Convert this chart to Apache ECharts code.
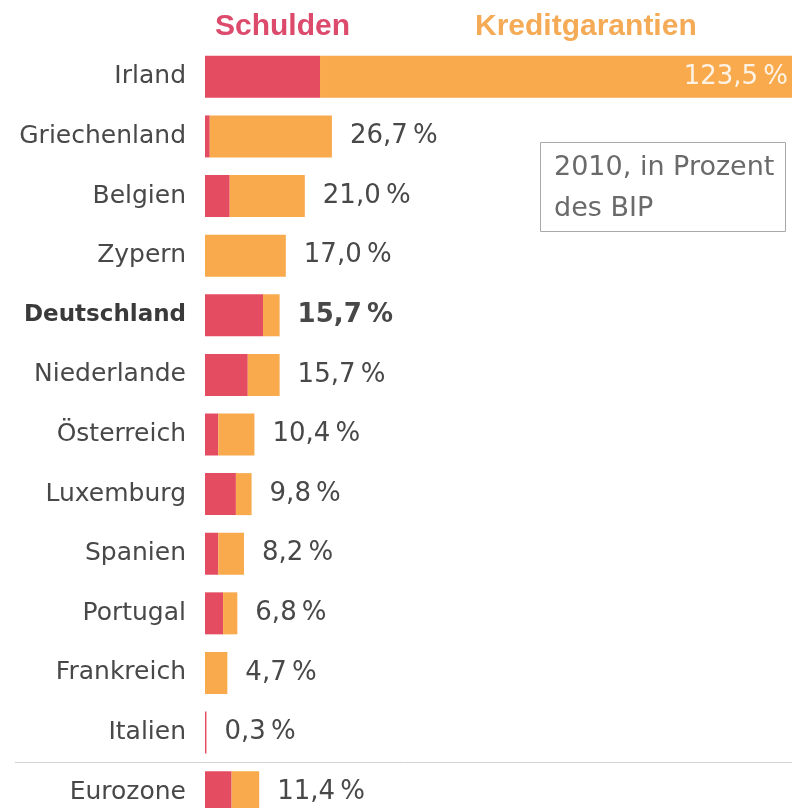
<!DOCTYPE html>
<html>
<head>
<meta charset="utf-8">
<script src="https://cdn.jsdelivr.net/npm/echarts@6/dist/echarts.min.js"></script>
<style>
html,body{margin:0;padding:0;background:#fff;overflow:hidden;}
#chart{width:792px;height:822px;}
</style>
</head>
<body>
<div id="chart"></div>
<script>
const categories = ['Irland','Griechenland','Belgien','Zypern','Deutschland','Niederlande','Österreich','Luxemburg','Spanien','Portugal','Frankreich','Italien','Eurozone'];
const schulden = [24.2, 1.0, 5.2, 0, 12.2, 9.0, 2.8, 6.5, 2.8, 3.8, 0, 0.3, 5.6];
const garantien = [99.3, 25.7, 15.8, 17.0, 3.5, 6.7, 7.6, 3.3, 5.4, 3.0, 4.7, 0, 5.8];
const totals = [123.5, 26.7, 21.0, 17.0, 15.7, 15.7, 10.4, 9.8, 8.2, 6.8, 4.7, 0.3, 11.4];
const seriesNames = ['Schulden', 'Kreditgarantien'];
const noteText = '2010, in Prozent\ndes BIP';
const highlight = 'Deutschland';

const RED = '#e44c62';
const ORANGE = '#f8aa4c';
const TEXT = '#484848';

const fmt = v => v.toFixed(1).replace('.', ',') + '\u2009%';

const chart = echarts.init(document.getElementById('chart'), null, {renderer: 'canvas'});

const garData = garantien.map((v, i) => {
  const item = {value: v};
  if (i === 0) {
    item.label = {position: 'insideRight', distance: 4, color: 'rgba(255,255,255,0.85)', fontWeight: 'normal'};
  } else if (categories[i] === highlight) {
    item.label = {fontWeight: 'bold'};
  }
  return item;
});

chart.setOption({
  animation: false,
  backgroundColor: '#fff',
  legend: {
    left: 205,
    top: 7,
    itemGap: 120,
    itemWidth: 0,
    itemHeight: 0,
    icon: 'rect',
    selectedMode: false,
    data: [
      {name: seriesNames[0], textStyle: {color: '#dc4a6c'}},
      {name: seriesNames[1], textStyle: {color: '#f5aa55'}}
    ],
    textStyle: {fontFamily: 'Liberation Sans', fontWeight: 'bold', fontSize: 30}
  },
  title: {
    text: noteText,
    left: 540,
    top: 142,
    padding: [5, 11, 3, 14],
    borderColor: '#a8a8a8',
    borderWidth: 1,
    textStyle: {fontFamily: 'DejaVu Sans', fontWeight: 'normal', fontSize: 27, color: '#6a6a6a', lineHeight: 41}
  },
  grid: {left: 205, right: 0, top: 47, bottom: 0, containLabel: false},
  xAxis: {type: 'value', min: 0, max: 123.5, show: false},
  yAxis: {
    type: 'category',
    data: categories,
    inverse: true,
    axisLine: {show: false},
    axisTick: {show: false},
    axisLabel: {
      margin: 19,
      fontFamily: 'DejaVu Sans',
      fontSize: 25,
      color: TEXT,
      formatter: v => v === highlight ? '{b|' + v + '}' : v,
      rich: {b: {fontFamily: 'DejaVu Sans', fontWeight: 'bold', fontSize: 23, color: '#3a3a3a'}}
    }
  },
  series: [
    {
      name: seriesNames[0],
      type: 'bar',
      stack: 'all',
      barWidth: 42,
      itemStyle: {color: RED},
      data: schulden
    },
    {
      name: seriesNames[1],
      type: 'bar',
      stack: 'all',
      barWidth: 42,
      itemStyle: {color: ORANGE},
      label: {
        show: true,
        position: 'right',
        distance: 18,
        fontFamily: 'DejaVu Sans',
        fontSize: 26,
        color: TEXT,
        formatter: p => fmt(totals[p.dataIndex])
      },
      data: garData
    }
  ]
});

// separator between the last country and the euro zone average
const yA = chart.convertToPixel({yAxisIndex: 0}, categories[categories.length - 2]);
const yB = chart.convertToPixel({yAxisIndex: 0}, categories[categories.length - 1]);
const ySep = Math.round((yA + yB) / 2) + 0.5;
chart.setOption({
  graphic: [{
    type: 'line',
    shape: {x1: 15, y1: ySep, x2: 792, y2: ySep},
    style: {stroke: '#d2d2d2', lineWidth: 1},
    silent: true
  }]
});
</script>
</body>
</html>
